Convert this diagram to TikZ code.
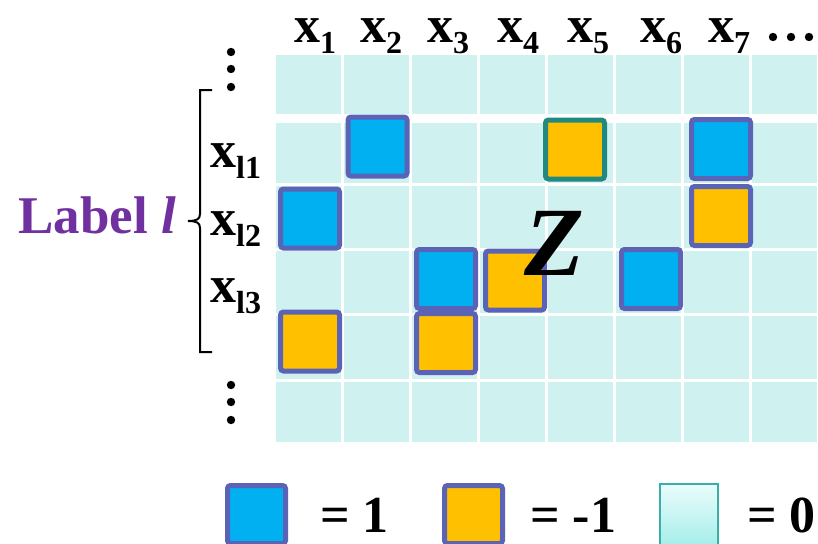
\documentclass[tikz,border=0pt]{standalone}
\usepackage{fontspec}
\setmainfont{Liberation Serif}
\usetikzlibrary{positioning}
\definecolor{cellcyan}{RGB}{207,241,240}
\definecolor{qblue}{RGB}{0,176,240}
\definecolor{qorange}{RGB}{255,192,0}
\definecolor{qedge}{RGB}{91,99,183}
\definecolor{qteal}{RGB}{32,137,128}
\definecolor{zteal}{RGB}{56,176,168}
\definecolor{ztop}{RGB}{234,252,252}
\definecolor{zbot}{RGB}{166,238,234}
\definecolor{labpurple}{RGB}{112,48,160}
\newcommand\subtxt[1]{\raisebox{-11pt}{\fontsize{32}{32}\selectfont #1}}

\begin{document}
\begin{tikzpicture}[x=1pt,y=-1pt,
    sq/.style={draw=qedge,line width=5pt,rounded corners=3pt,
      minimum size=59pt,inner sep=0pt},
    one/.style={sq,fill=qblue},
    minus/.style={sq,fill=qorange},
    lbl/.style={anchor=base west,inner sep=0pt,
      font=\bfseries\fontsize{52}{52}\selectfont},
    dot/.style={fill=black}
  ]
  \useasboundingbox (0,0) rectangle (818,543);
  \foreach \l in {276,344,412,480,548,616,684,752}
    \foreach \t/\b in {55/114,123/183,186/248,251/313,316/379,382/442}
      \fill[cellcyan] (\l,\t) rectangle ({\l+65},\b);
  \foreach \x/\i in {294/1,360/2,427/3,497/4,567/5,640/6,708/7}
    \node[lbl] (h\i) at (\x,42) {x\subtxt{\i}};
  \foreach \x in {773,791,809}
    \fill[dot] (\x,37) circle (4.2pt);
  \foreach \y in {52,69,87,385,402,420}
    \fill[dot] (231,\y) circle (4.2pt);
  \node[lbl] (r1) at (210,167) {x\subtxt{l1}};
  \node[lbl] (r2) at (210,235) {x\subtxt{l2}};
  \node[lbl] (r3) at (210,302) {x\subtxt{l3}};
  \draw[line width=2pt] (212,90) -- (200,90) -- (200,214)
    .. controls (200,219) and (197,221) .. (188,221)
    .. controls (197,221) and (200,223) .. (200,228) -- (200,352) -- (212,352);
  \node[lbl,text=labpurple,font=\bfseries\fontsize{53}{53}\selectfont]
    (label) at (18,233) {Label \textit{l}};
  \node[one] (a1) at (377.5,146.5) {};
  \node[minus,draw=qteal] (a2) at (575,149.5) {};
  \node[one] (a3) at (721,149) {};
  \node[one] (b1) at (310,218.5) {};
  \node[minus] (b2) at (721,216) {};
  \node[one] (c1) at (446,279) {};
  \node[minus] (c2) at (515,280.5) {};
  \node[one] (c3) at (651,279) {};
  \node[minus] (d1) at (310,341.5) {};
  \node[minus] (d2) at (446,343) {};
  \node[lbl,font=\bfseries\itshape\fontsize{98}{98}\selectfont] (z) at (524,275) {Z};
  \node[one,minimum size=58pt] (k1) at (256.5,514.5) {};
  \node[minus,minimum size=58pt] (k2) at (473.5,514.5) {};
  \node[draw=zteal,line width=2pt,minimum width=58pt,minimum height=61pt,
    top color=ztop,bottom color=zbot] (k0) at (689,514.5) {};
  \node[lbl] (t1) at (320,532) {= 1};
  \node[lbl] (t2) at (530,532) {= -1};
  \node[lbl] (t0) at (747,532) {= 0};
\end{tikzpicture}
\end{document}
